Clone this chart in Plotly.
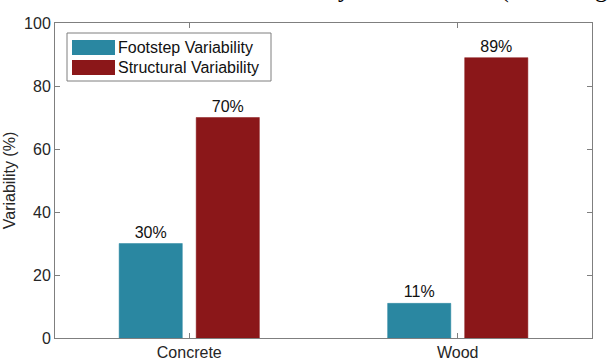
import plotly.graph_objects as go

# data
surfaces = ["Concrete", "Wood"]
footstep_var = [30, 11]
structural_var = [70, 89]
series_names = ["Footstep Variability", "Structural Variability"]
series_colors = ["#2a87a1", "#8b1719"]
y_ticks = [0, 20, 40, 60, 80, 100]

W, H = 610, 362
L, R, T, B = 55, 18, 23, 24
FONT = "Liberation Sans, Arial, Helvetica, sans-serif"
GREY = "#7f7f7f"


def px(x):
    return (x - L) / (W - L - R)


def py(y):
    return (H - B - y) / (H - T - B)


fig = go.Figure()
for name, vals, color in zip(series_names, [footstep_var, structural_var], series_colors):
    fig.add_trace(
        go.Bar(
            x=surfaces,
            y=vals,
            name=name,
            marker=dict(color=color, line=dict(color=color, width=0.5)),
            text=[f"{v}%" for v in vals],
            textposition="outside",
            textfont=dict(size=16, color="#111111", family=FONT),
            cliponaxis=False,
            showlegend=False,
        )
    )

# hand-drawn legend box, MATLAB style wide swatches
shapes = [
    dict(type="rect", xref="paper", yref="paper",
         x0=px(67), x1=px(271), y0=py(81), y1=py(33),
         line=dict(color=GREY, width=1), fillcolor="white", layer="above"),
]
annotations = []
for i, (name, color) in enumerate(zip(series_names, series_colors)):
    top = 40 + i * 20
    shapes.append(dict(type="rect", xref="paper", yref="paper",
                       x0=px(72), x1=px(115), y0=py(top + 15), y1=py(top),
                       line=dict(width=0), fillcolor=color, layer="above"))
    annotations.append(dict(text=name, xref="paper", yref="paper",
                            x=px(116), y=py(top + 7.5), xanchor="left", yanchor="middle",
                            showarrow=False, font=dict(size=16, color="#111111", family=FONT)))

# title of the figure, cut off by the crop of the reference (only descenders show)
annotations.append(dict(text="Variability Contributions (Percentage)",
                        xref="paper", yref="paper", x=px(243), y=py(5),
                        xanchor="left", yanchor="bottom", showarrow=False,
                        font=dict(size=25, color="black", family="Liberation Serif, Times New Roman, serif")))

axis_common = dict(
    showline=True, mirror="ticks", linecolor=GREY, linewidth=1,
    ticks="inside", ticklen=5, tickcolor=GREY, tickwidth=1,
    showgrid=False, zeroline=False, automargin=False,
    tickfont=dict(size=16, color="#262626", family=FONT),
)

fig.update_layout(
    width=W, height=H,
    margin=dict(l=L, r=R, t=T, b=B),
    paper_bgcolor="white", plot_bgcolor="white",
    barmode="group", bargap=0.426, bargroupgap=0.18,
    xaxis=dict(range=[-0.5, 1.5], **axis_common),
    yaxis=dict(range=[0, 100], tickvals=y_ticks,
               title=dict(text="Variability (%)", standoff=4,
                          font=dict(size=16, color="#262626", family=FONT)),
               **axis_common),
    shapes=shapes,
    annotations=annotations,
)

# drop the default 8px page margin so the figure sits at the window corner
fig.write_html("out.html", config={"displayModeBar": False},
               post_script="document.body.style.margin='0';")
